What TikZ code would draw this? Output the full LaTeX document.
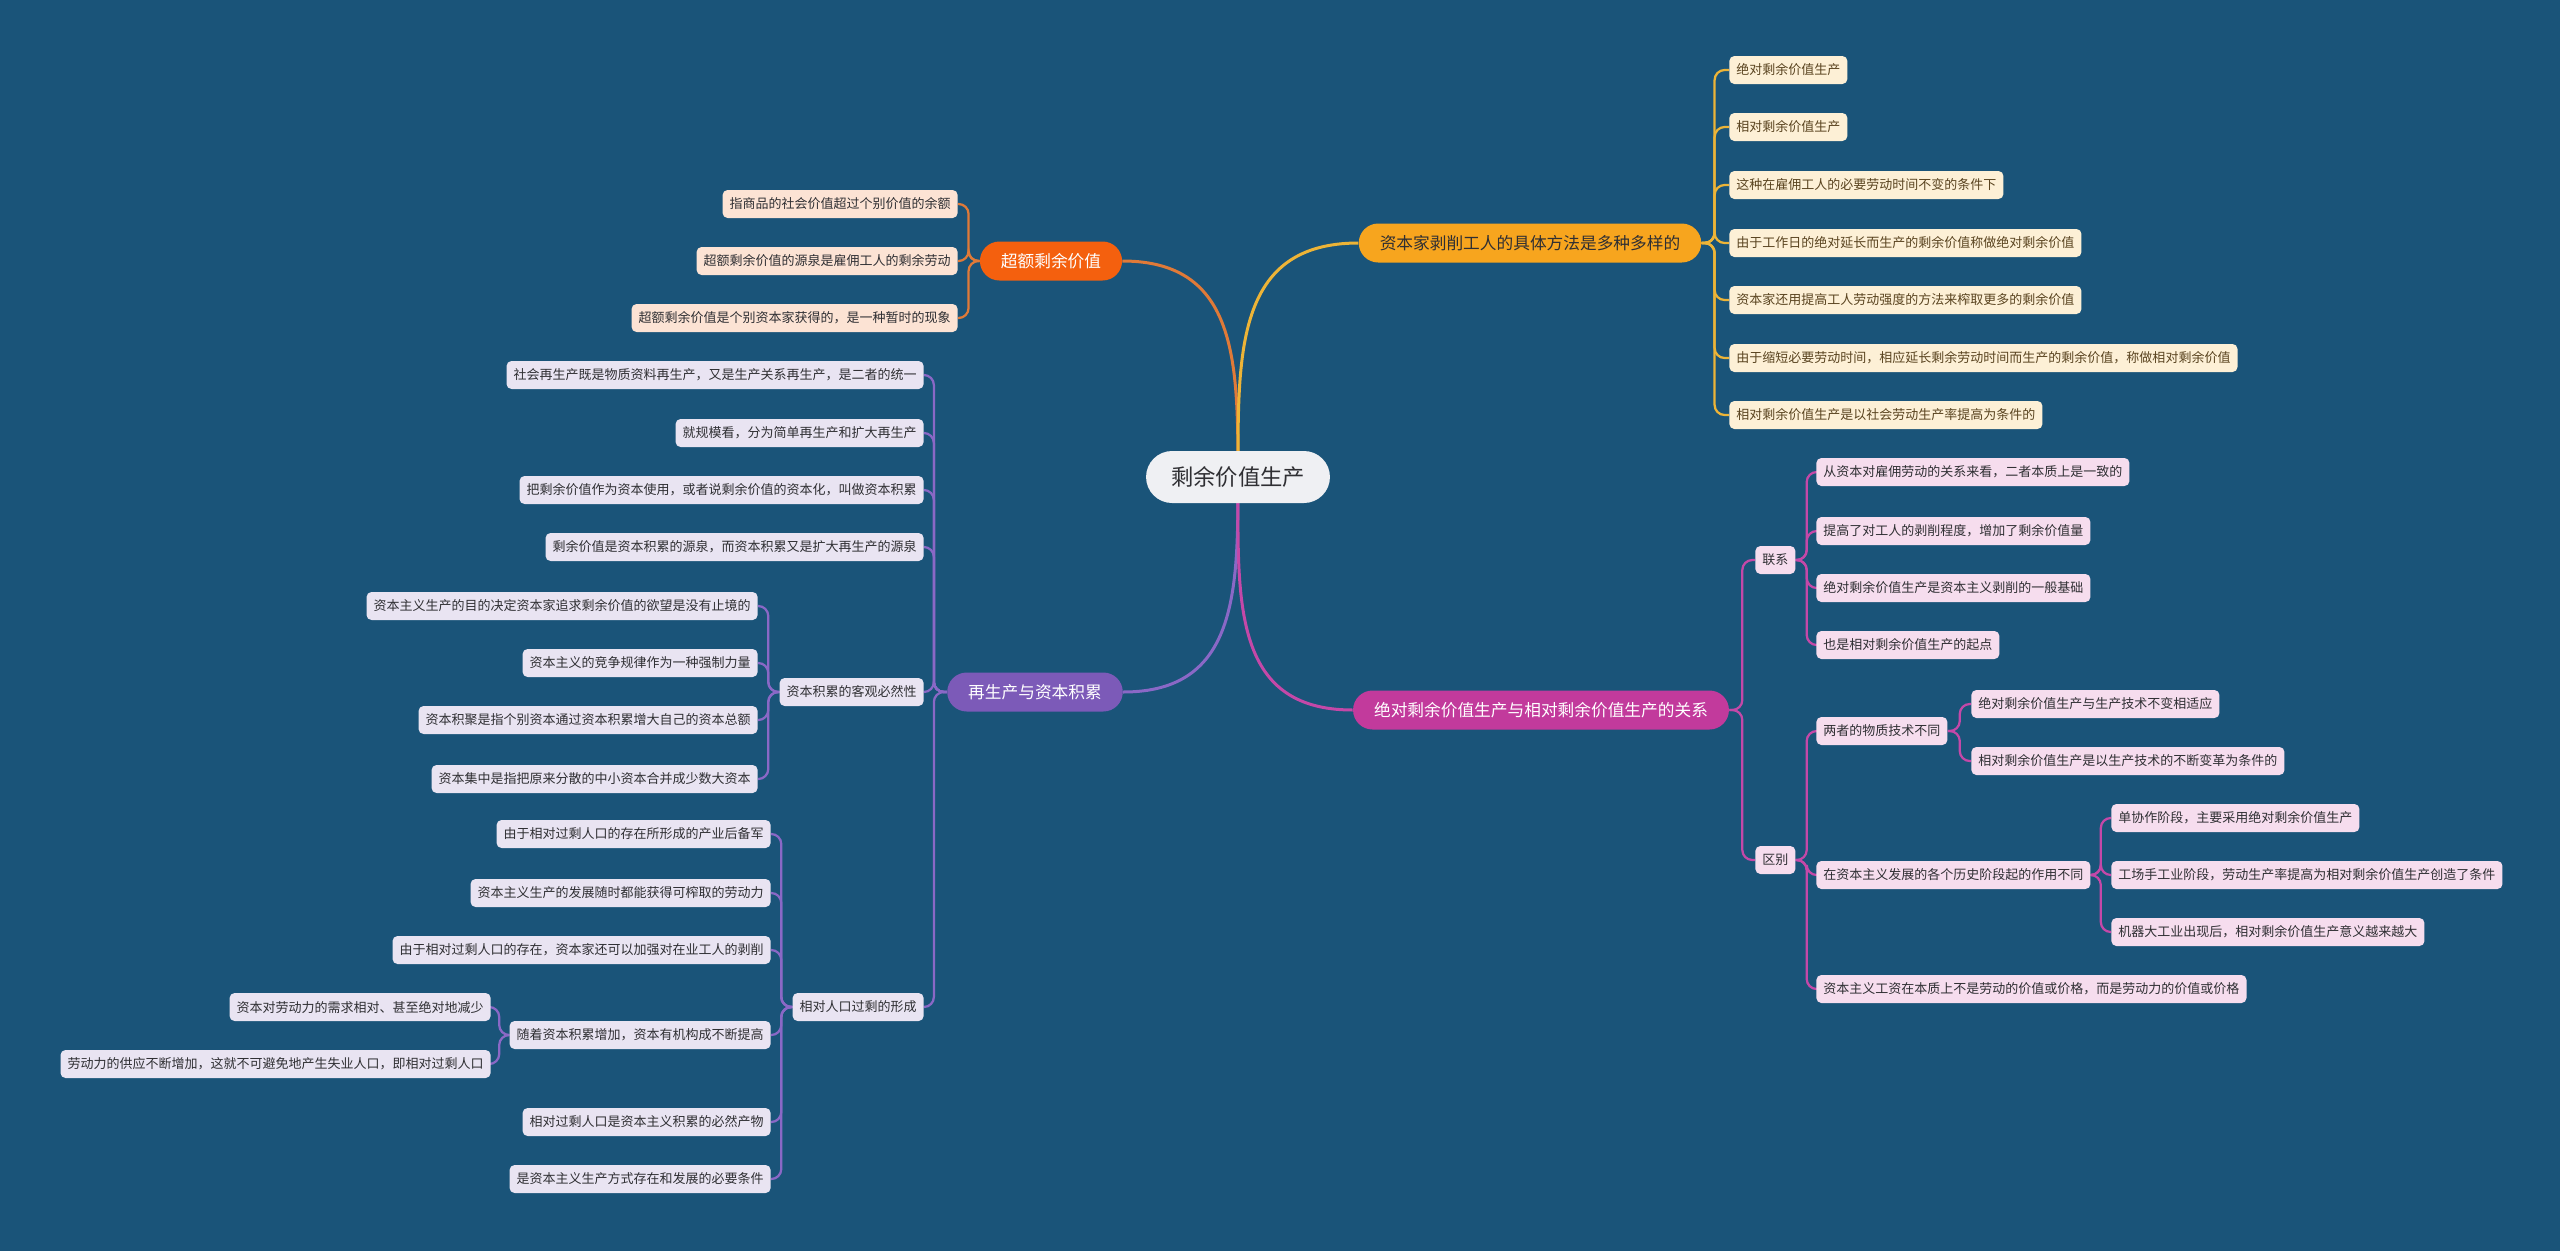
\documentclass[tikz,border=0pt]{standalone}
\usepackage{fontspec}
\setmainfont{Noto Sans CJK SC}
\usepackage{tikz}
\usetikzlibrary{positioning,backgrounds}
\definecolor{bgcolor}{HTML}{1A5479}
\definecolor{rootfill}{HTML}{EFF0F3}
\definecolor{textdark}{HTML}{2F2F33}
\definecolor{orfill}{HTML}{F4600E}
\definecolor{orleaf}{HTML}{FCE3D4}
\definecolor{orline}{HTML}{E07A38}
\definecolor{yefill}{HTML}{F7A51E}
\definecolor{yeleaf}{HTML}{FDF0D6}
\definecolor{yeline}{HTML}{EDB437}
\definecolor{yetext}{HTML}{5A4420}
\definecolor{pufill}{HTML}{7C5AB8}
\definecolor{puleaf}{HTML}{E9E4F2}
\definecolor{puline}{HTML}{8A68C6}
\definecolor{mafill}{HTML}{C23A9C}
\definecolor{maleaf}{HTML}{F6DDEE}
\definecolor{maline}{HTML}{C448A8}
\tikzset{
  root/.style={fill=rootfill, rounded corners=5.2mm, minimum height=10.4mm, inner xsep=5mm, inner ysep=0pt, text=textdark, font=\fontsize{12.7pt}{14pt}\selectfont},
  br/.style={rounded corners=3.9mm, minimum height=7.8mm, inner xsep=4.2mm, inner ysep=0pt, font=\fontsize{9.5pt}{11pt}\selectfont},
  leaf/.style={rounded corners=1mm, minimum height=5.6mm, inner xsep=1.4mm, inner ysep=0pt, text=textdark, font=\fontsize{7.4pt}{9pt}\selectfont},
  link/.style={line width=0.6mm},
  bracket/.style={line width=0.45mm, rounded corners=2mm},
}
\begin{document}
\begin{tikzpicture}[x=0.2mm, y=-0.2mm]
\useasboundingbox (0,0) rectangle (2560,1251);
% centre and main branches
\node[root] (root) at (1238,477) {剩余价值生产};
\node[br, fill=orfill, text=white] (extra) at (1051,261) {超额剩余价值};
\node[br, fill=yefill, text=textdark] (meth) at (1530,243) {资本家剥削工人的具体方法是多种多样的};
\node[br, fill=pufill, text=white] (repro) at (1035,692) {再生产与资本积累};
\node[br, fill=mafill, text=white] (rel) at (1541,710) {绝对剩余价值生产与相对剩余价值生产的关系};

% 超额剩余价值
\node[leaf, fill=orleaf, anchor=east] (e1) at (958,204) {指商品的社会价值超过个别价值的余额};
\node[leaf, fill=orleaf, anchor=east] (e2) at (958,261) {超额剩余价值的源泉是雇佣工人的剩余劳动};
\node[leaf, fill=orleaf, anchor=east] (e3) at (958,318) {超额剩余价值是个别资本家获得的，是一种暂时的现象};

% 具体方法
\node[leaf, fill=yeleaf, text=yetext, anchor=west] (m1) at (1729,70) {绝对剩余价值生产};
\node[leaf, fill=yeleaf, text=yetext, anchor=west] (m2) at (1729,127) {相对剩余价值生产};
\node[leaf, fill=yeleaf, text=yetext, anchor=west] (m3) at (1729,185) {这种在雇佣工人的必要劳动时间不变的条件下};
\node[leaf, fill=yeleaf, text=yetext, anchor=west] (m4) at (1729,243) {由于工作日的绝对延长而生产的剩余价值称做绝对剩余价值};
\node[leaf, fill=yeleaf, text=yetext, anchor=west] (m5) at (1729,300) {资本家还用提高工人劳动强度的方法来榨取更多的剩余价值};
\node[leaf, fill=yeleaf, text=yetext, anchor=west] (m6) at (1729,358) {由于缩短必要劳动时间，相应延长剩余劳动时间而生产的剩余价值，称做相对剩余价值};
\node[leaf, fill=yeleaf, text=yetext, anchor=west] (m7) at (1729,415) {相对剩余价值生产是以社会劳动生产率提高为条件的};

% 再生产与资本积累
\node[leaf, fill=puleaf, anchor=east] (r1) at (924,375) {社会再生产既是物质资料再生产，又是生产关系再生产，是二者的统一};
\node[leaf, fill=puleaf, anchor=east] (r2) at (924,433) {就规模看，分为简单再生产和扩大再生产};
\node[leaf, fill=puleaf, anchor=east] (r3) at (924,490) {把剩余价值作为资本使用，或者说剩余价值的资本化，叫做资本积累};
\node[leaf, fill=puleaf, anchor=east] (r4) at (924,547) {剩余价值是资本积累的源泉，而资本积累又是扩大再生产的源泉};
\node[leaf, fill=puleaf, anchor=east] (acc) at (924,692) {资本积累的客观必然性};
\node[leaf, fill=puleaf, anchor=east] (a1) at (758,606) {资本主义生产的目的决定资本家追求剩余价值的欲望是没有止境的};
\node[leaf, fill=puleaf, anchor=east] (a2) at (758,663) {资本主义的竞争规律作为一种强制力量};
\node[leaf, fill=puleaf, anchor=east] (a3) at (758,720) {资本积聚是指个别资本通过资本积累增大自己的资本总额};
\node[leaf, fill=puleaf, anchor=east] (a4) at (758,779) {资本集中是指把原来分散的中小资本合并成少数大资本};
\node[leaf, fill=puleaf, anchor=east] (pop) at (924,1007) {相对人口过剩的形成};
\node[leaf, fill=puleaf, anchor=east] (p1) at (771,834) {由于相对过剩人口的存在所形成的产业后备军};
\node[leaf, fill=puleaf, anchor=east] (p2) at (771,893) {资本主义生产的发展随时都能获得可榨取的劳动力};
\node[leaf, fill=puleaf, anchor=east] (p3) at (771,950) {由于相对过剩人口的存在，资本家还可以加强对在业工人的剥削};
\node[leaf, fill=puleaf, anchor=east] (grow) at (771,1035) {随着资本积累增加，资本有机构成不断提高};
\node[leaf, fill=puleaf, anchor=east] (g1) at (491,1007) {资本对劳动力的需求相对、甚至绝对地减少};
\node[leaf, fill=puleaf, anchor=east] (g2) at (491,1064) {劳动力的供应不断增加，这就不可避免地产生失业人口，即相对过剩人口};
\node[leaf, fill=puleaf, anchor=east] (p4) at (771,1122) {相对过剩人口是资本主义积累的必然产物};
\node[leaf, fill=puleaf, anchor=east] (p5) at (771,1179) {是资本主义生产方式存在和发展的必要条件};

% 关系
\node[leaf, fill=maleaf, anchor=west] (lx) at (1755,560) {联系};
\node[leaf, fill=maleaf, anchor=west] (c1) at (1816,472) {从资本对雇佣劳动的关系来看，二者本质上是一致的};
\node[leaf, fill=maleaf, anchor=west] (c2) at (1816,531) {提高了对工人的剥削程度，增加了剩余价值量};
\node[leaf, fill=maleaf, anchor=west] (c3) at (1816,588) {绝对剩余价值生产是资本主义剥削的一般基础};
\node[leaf, fill=maleaf, anchor=west] (c4) at (1816,645) {也是相对剩余价值生产的起点};
\node[leaf, fill=maleaf, anchor=west] (qb) at (1755,860) {区别};
\node[leaf, fill=maleaf, anchor=west] (tech) at (1816,731) {两者的物质技术不同};
\node[leaf, fill=maleaf, anchor=west] (t1) at (1971,704) {绝对剩余价值生产与生产技术不变相适应};
\node[leaf, fill=maleaf, anchor=west] (t2) at (1971,761) {相对剩余价值生产是以生产技术的不断变革为条件的};
\node[leaf, fill=maleaf, anchor=west] (stage) at (1816,875) {在资本主义发展的各个历史阶段起的作用不同};
\node[leaf, fill=maleaf, anchor=west] (s1) at (2111,818) {单协作阶段，主要采用绝对剩余价值生产};
\node[leaf, fill=maleaf, anchor=west] (s2) at (2111,875) {工场手工业阶段，劳动生产率提高为相对剩余价值生产创造了条件};
\node[leaf, fill=maleaf, anchor=west] (s3) at (2111,932) {机器大工业出现后，相对剩余价值生产意义越来越大};
\node[leaf, fill=maleaf, anchor=west] (wage) at (1816,989) {资本主义工资在本质上不是劳动的价值或价格，而是劳动力的价值或价格};

\begin{scope}[on background layer]
\fill[bgcolor] (0,0) rectangle (2560,1251);
% root links
\draw[link, orline] (root.center) to[out=90, in=0, looseness=1.2] (extra.east);
\draw[link, yeline] (root.center) to[out=90, in=180, looseness=1.2] (meth.west);
\draw[link, puline] (root.center) to[out=-90, in=0, looseness=1.2] (repro.east);
\draw[link, maline] (root.center) to[out=-90, in=180, looseness=1.2] (rel.west);
% brackets
\foreach \c in {e1,e2,e3}
  \draw[bracket, orline] (extra.west) -- ++(-11,0) |- (\c.east);
\foreach \c in {m1,m2,m3,m4,m5,m6,m7}
  \draw[bracket, yeline] (meth.east) -- ++(13,0) |- (\c.west);
\foreach \c in {r1,r2,r3,r4,acc,pop}
  \draw[bracket, puline] (repro.west) -- ++(-13,0) |- (\c.east);
\foreach \c in {a1,a2,a3,a4}
  \draw[bracket, puline] (acc.west) -- ++(-11,0) |- (\c.east);
\foreach \c in {p1,p2,p3,grow,p4,p5}
  \draw[bracket, puline] (pop.west) -- ++(-11,0) |- (\c.east);
\foreach \c in {g1,g2}
  \draw[bracket, puline] (grow.west) -- ++(-10,0) |- (\c.east);
\foreach \c in {lx,qb}
  \draw[bracket, maline] (rel.east) -- ++(13,0) |- (\c.west);
\foreach \c in {c1,c2,c3,c4}
  \draw[bracket, maline] (lx.east) -- ++(11,0) |- (\c.west);
\foreach \c in {tech,stage,wage}
  \draw[bracket, maline] (qb.east) -- ++(11,0) |- (\c.west);
\foreach \c in {t1,t2}
  \draw[bracket, maline] (tech.east) -- ++(12,0) |- (\c.west);
\foreach \c in {s1,s2,s3}
  \draw[bracket, maline] (stage.east) -- ++(10,0) |- (\c.west);
\end{scope}
\end{tikzpicture}
\end{document}
